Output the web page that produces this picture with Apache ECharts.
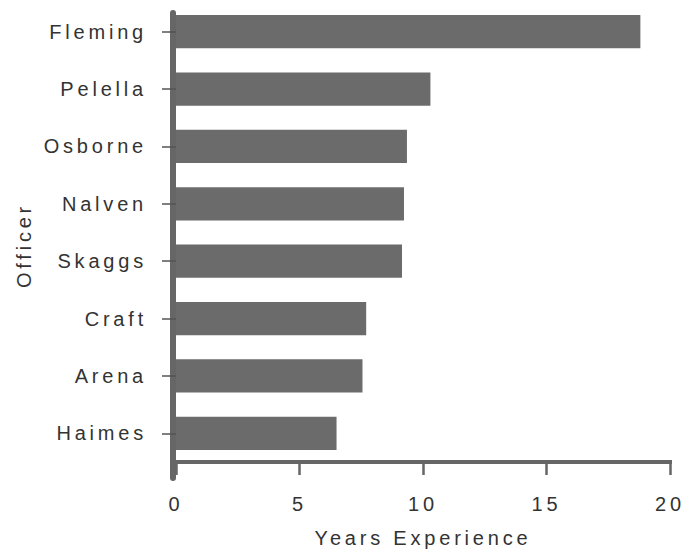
<!DOCTYPE html>
<html>
<head>
<meta charset="utf-8">
<script src="https://cdn.jsdelivr.net/npm/echarts@6/dist/echarts.min.js"></script>
<style>
html,body{margin:0;padding:0;background:#fff;}
#chart{width:685px;height:553px;}
#chart text{letter-spacing:3.8px;}
</style>
</head>
<body>
<div id="chart"></div>
<script>
const officers = ['Fleming','Pelella','Osborne','Nalven','Skaggs','Craft','Arena','Haimes'];
const yearsExperience = [18.8, 10.3, 9.35, 9.23, 9.15, 7.7, 7.55, 6.5];
const xTicks = [0, 5, 10, 15, 20];

const barColor = '#6b6b6b';
const axisColor = '#666666';
const textColor = '#333333';
const font = 'Liberation Sans, Arial, sans-serif';

const chart = echarts.init(document.getElementById('chart'), null, {renderer: 'svg'});
chart.setOption({
  animation: false,
  backgroundColor: '#ffffff',
  grid: [
    {left: 176, right: 15, top: 3, bottom: 89},
    {left: 173, right: 15, top: 13, bottom: 75}
  ],
  xAxis: [
    {
      gridIndex: 0,
      type: 'value',
      min: xTicks[0],
      max: xTicks[xTicks.length - 1],
      interval: xTicks[1] - xTicks[0],
      name: 'Years Experience',
      nameLocation: 'middle',
      nameGap: 66,
      nameTextStyle: {fontFamily: font, fontSize: 20, color: textColor},
      axisLine: {show: true, lineStyle: {color: axisColor, width: 4, cap: 'square'}},
      axisTick: {show: true, length: 13, lineStyle: {color: axisColor, width: 2.5}},
      axisLabel: {margin: 32, fontFamily: font, fontSize: 20, color: textColor},
      splitLine: {show: false}
    },
    {gridIndex: 1, type: 'value', show: false, min: 0, max: 1}
  ],
  yAxis: [
    {
      gridIndex: 0,
      type: 'category',
      data: officers,
      inverse: true,
      offset: 3,
      axisLine: {show: false},
      axisTick: {show: true, alignWithLabel: true, length: 14, lineStyle: {color: '#555', width: 1.5}},
      axisLabel: {margin: 26, fontFamily: font, fontSize: 20, color: textColor, padding: [6, 0, 0, 0]}
    },
    {
      gridIndex: 1,
      type: 'value',
      min: 0,
      max: 1,
      name: 'Officer',
      nameLocation: 'middle',
      nameGap: 139,
      nameRotate: 90,
      nameTextStyle: {fontFamily: font, fontSize: 20, color: textColor},
      axisLine: {show: true, lineStyle: {color: axisColor, width: 6}},
      axisTick: {show: false},
      axisLabel: {show: false},
      splitLine: {show: false}
    }
  ],
  series: [{
    type: 'bar',
    xAxisIndex: 0,
    yAxisIndex: 0,
    data: yearsExperience,
    barWidth: '58%',
    itemStyle: {color: barColor},
    z: 1
  }]
});
</script>
</body>
</html>
